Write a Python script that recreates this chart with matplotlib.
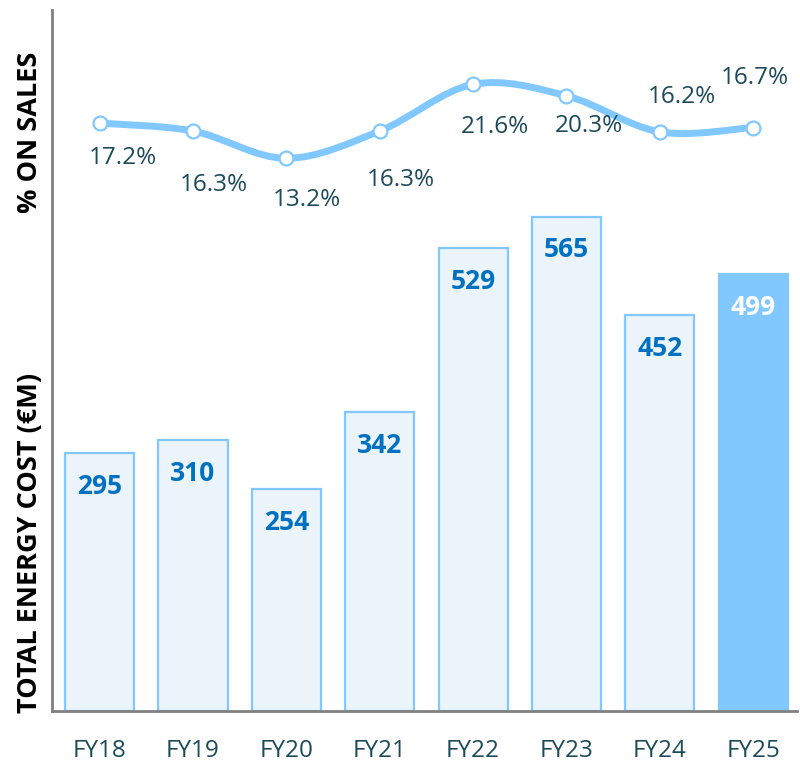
import matplotlib
matplotlib.use("Agg")
import matplotlib.pyplot as plt
from matplotlib.path import Path
from matplotlib.patches import PathPatch
import numpy as np

plt.rcParams['font.family'] = ['Open Sans', 'DejaVu Sans']

categories = ["FY18", "FY19", "FY20", "FY21", "FY22", "FY23", "FY24", "FY25"]
energy_cost = [295, 310, 254, 342, 529, 565, 452, 499]
pct_on_sales = [17.2, 16.3, 13.2, 16.3, 21.6, 20.3, 16.2, 16.7]
pct_labels = ["17.2%", "16.3%", "13.2%", "16.3%", "21.6%", "20.3%", "16.2%", "16.7%"]
# label offsets in points (dx, dy) relative to each marker
pct_offsets = [(17, -25), (15, -39), (15, -30), (15, -35), (16, -31), (16, -22), (16, 25), (1, 36)]

LINE = "#80c8ff"
BAR_FACE = "#ebf3fb"
BAR_LABEL = "#0070c0"
TEXT = "#1b4a5a"

fig = plt.figure(figsize=(8, 7.65), dpi=100)
ax = fig.add_axes([0.065, 0.0706, 0.9313, 0.9163])
x = np.arange(len(categories))

faces = [BAR_FACE] * (len(categories) - 1) + [LINE]
ax.bar(x, energy_cost, width=0.74, color=faces, edgecolor=LINE, linewidth=1.6, zorder=2)
for i, v in enumerate(energy_cost):
    col = "white" if i == len(categories) - 1 else BAR_LABEL
    ax.annotate(str(v), (x[i], v), xytext=(0, -24), textcoords="offset points",
                ha="center", va="center", fontsize=19, fontweight="bold", color=col, zorder=3)

ax.set_xlim(-0.51, 7.47)
ax.set_ylim(0, 801)
ax.set_xticks(x)
ax.set_xticklabels(categories, fontsize=17.5, color=TEXT)
ax.tick_params(axis="x", length=0, pad=20)
ax.set_yticks([])
for s in ["top", "right"]:
    ax.spines[s].set_visible(False)
for s in ["left", "bottom"]:
    ax.spines[s].set_color("#808080")
    ax.spines[s].set_linewidth(2)

# secondary axis for percentage line
ax2 = ax.twinx()
ax2.set_ylim(-49.6, 30.05)
ax2.set_yticks([])
for s in ax2.spines.values():
    s.set_visible(False)

# smooth curve (Catmull-Rom converted to cubic Bezier)
pts = np.column_stack([x, pct_on_sales]).astype(float)
verts = [tuple(pts[0])]
codes = [Path.MOVETO]
n = len(pts)
for i in range(n - 1):
    p0 = pts[i - 1] if i > 0 else pts[i]
    p1 = pts[i]
    p2 = pts[i + 1]
    p3 = pts[i + 2] if i + 2 < n else pts[i + 1]
    c1 = p1 + (p2 - p0) / 6.0
    c2 = p2 - (p3 - p1) / 6.0
    verts += [tuple(c1), tuple(c2), tuple(p2)]
    codes += [Path.CURVE4] * 3
ax2.add_patch(PathPatch(Path(verts, codes), facecolor="none", edgecolor=LINE,
                        linewidth=5, capstyle="round", zorder=3))
ax2.plot(x, pct_on_sales, linestyle="none", marker="o", markersize=10,
         markerfacecolor="white", markeredgecolor=LINE, markeredgewidth=1.6, zorder=4)
for i, lab in enumerate(pct_labels):
    dx, dy = pct_offsets[i]
    ax2.annotate(lab, (x[i], pct_on_sales[i]), xytext=(dx, dy), textcoords="offset points",
                 ha="center", va="center", fontsize=17.5, color=TEXT, zorder=5)

fig.text(0.038, 1 - 132 / 765, "% ON SALES", rotation=90, ha="center", va="center",
         fontsize=19.5, fontweight="bold", color="black")
fig.text(0.038, 1 - 543 / 765, "TOTAL ENERGY COST (€M)", rotation=90, ha="center", va="center",
         fontsize=19.5, fontweight="bold", color="black")

fig.savefig("out.png", dpi=100)
